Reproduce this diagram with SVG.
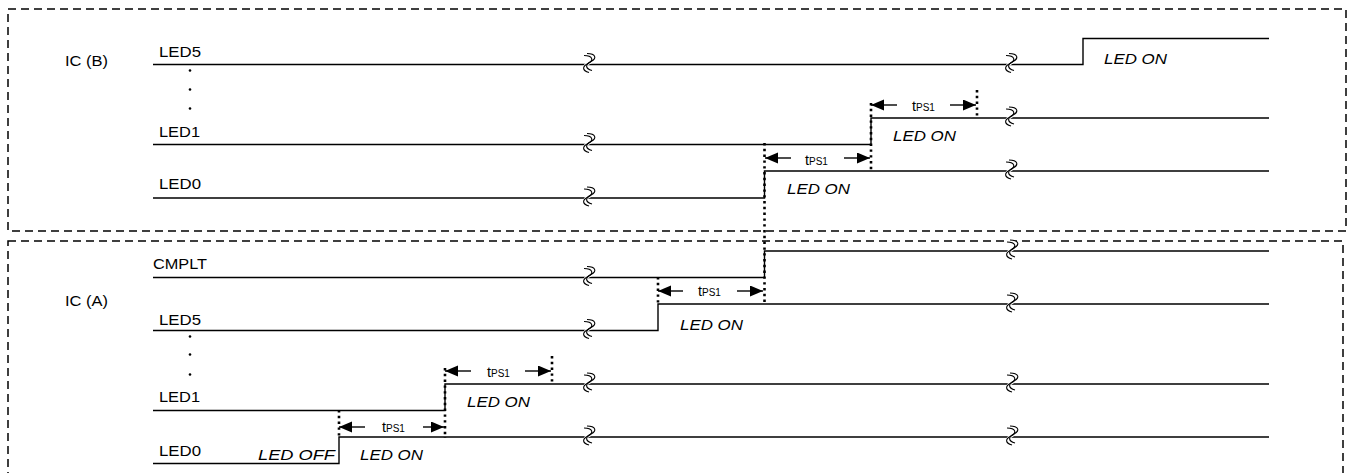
<svg xmlns="http://www.w3.org/2000/svg" width="1349" height="473" viewBox="0 0 1349 473">
<style>
.box{fill:none;stroke:#000;stroke-width:1.5;stroke-dasharray:8 5}
.w{fill:none;stroke:#000;stroke-width:1.4}
.dot{fill:none;stroke:#000;stroke-width:2.6;stroke-dasharray:2.4 3.4}
.ar{fill:none;stroke:#000;stroke-width:1.4;marker-end:url(#ah)}
.lb{font-family:"Liberation Sans",Arial,sans-serif;font-size:14.5px;fill:#000}
.it{font-family:"Liberation Sans",Arial,sans-serif;font-size:14.5px;font-style:italic;fill:#000}
.t{font-family:"Liberation Sans",Arial,sans-serif;font-size:14.5px;fill:#000}
.sub{font-size:10px}
</style>
<defs>
<marker id="ah" markerUnits="userSpaceOnUse" markerWidth="14" markerHeight="12" refX="13" refY="5.5" orient="auto">
<path d="M0,0 L13,5.5 L0,11 Z" fill="#000"/>
</marker>
<g id="brk">
<path d="M-1.5,-10 C7.5,-10 8.5,-5 2.5,-2 C-3.5,1 -3.5,5 3.5,7" fill="none" stroke="#fff" stroke-width="3.5"/>
<path d="M-3,-9 C6,-9 7,-4 1,-1 C-5,2 -5,6 2,8" fill="none" stroke="#000" stroke-width="1.1"/>
<path d="M0,-11 C9,-11 10,-6 4,-3 C-2,0 -2,4 5,6" fill="none" stroke="#000" stroke-width="1.1"/>
</g>
</defs>

<g id="box-icb"><rect class="box" x="8" y="9" width="1338" height="222"/><text class="lb" x="65" y="66" textLength="43" lengthAdjust="spacingAndGlyphs">IC (B)</text></g>
<g id="box-ica"><rect class="box" x="8" y="241" width="1335" height="260"/><text class="lb" x="65" y="306" textLength="43" lengthAdjust="spacingAndGlyphs">IC (A)</text></g>

<g id="b-led5">
<text class="lb" x="159" y="57" textLength="42" lengthAdjust="spacingAndGlyphs">LED5</text>
<path class="w" d="M153,64.5 H1083 V38.5 H1269"/>
<circle cx="190" cy="70.5" r="1.3"/><circle cx="190" cy="89.5" r="1.3"/><circle cx="190" cy="108.5" r="1.3"/>
<text class="it" x="1104" y="64" textLength="63" lengthAdjust="spacingAndGlyphs">LED ON</text>
</g>
<g id="b-led1">
<text class="lb" x="159" y="137" textLength="41" lengthAdjust="spacingAndGlyphs">LED1</text>
<path class="w" d="M153,144.5 H871 V118 H1269"/>
<text class="it" x="893" y="141" textLength="63" lengthAdjust="spacingAndGlyphs">LED ON</text>
</g>
<g id="b-led0">
<text class="lb" x="159" y="189" textLength="42" lengthAdjust="spacingAndGlyphs">LED0</text>
<path class="w" d="M153,198 H764.5 V171 H1269"/>
<text class="it" x="787" y="194" textLength="63" lengthAdjust="spacingAndGlyphs">LED ON</text>
</g>

<g id="a-cmplt">
<text class="lb" x="153" y="269" textLength="54" lengthAdjust="spacingAndGlyphs">CMPLT</text>
<path class="w" d="M153,277.5 H764.5 V251 H1269"/>
</g>
<g id="a-led5">
<text class="lb" x="159" y="325" textLength="42" lengthAdjust="spacingAndGlyphs">LED5</text>
<path class="w" d="M153,330.5 H658 V304 H1269"/>
<circle cx="190" cy="336.5" r="1.3"/><circle cx="190" cy="354.5" r="1.3"/><circle cx="190" cy="374.5" r="1.3"/>
<text class="it" x="680" y="330" textLength="63" lengthAdjust="spacingAndGlyphs">LED ON</text>
</g>
<g id="a-led1">
<text class="lb" x="159" y="402" textLength="41" lengthAdjust="spacingAndGlyphs">LED1</text>
<path class="w" d="M153,410.5 H445 V384 H1269"/>
<text class="it" x="467" y="407" textLength="63" lengthAdjust="spacingAndGlyphs">LED ON</text>
</g>
<g id="a-led0">
<text class="lb" x="159" y="456" textLength="42" lengthAdjust="spacingAndGlyphs">LED0</text>
<path class="w" d="M153,463.5 H339 V437 H1269"/>
<text class="it" x="258" y="460" textLength="77" lengthAdjust="spacingAndGlyphs">LED OFF</text>
<text class="it" x="360" y="460" textLength="63" lengthAdjust="spacingAndGlyphs">LED ON</text>
</g>

<g id="breaks">
<use href="#brk" x="587" y="64.5"/><use href="#brk" x="587" y="144.5"/><use href="#brk" x="587" y="198"/>
<use href="#brk" x="1009" y="64.5"/><use href="#brk" x="1009" y="118"/><use href="#brk" x="1009" y="171"/>
<use href="#brk" x="587" y="277.5"/><use href="#brk" x="587" y="330.5"/><use href="#brk" x="587" y="384"/><use href="#brk" x="587" y="437"/>
<use href="#brk" x="1010" y="251"/><use href="#brk" x="1010" y="304"/><use href="#brk" x="1010" y="384"/><use href="#brk" x="1010" y="437"/>
</g>

<g id="connectors">
<path class="dot" d="M764.5,143 V304"/>
<path class="dot" d="M871,103 V172"/>
<path class="dot" d="M977,90 V118"/>
<path class="dot" d="M658,277 V305"/>
<path class="dot" d="M339,410 V438"/>
<path class="dot" d="M445,368 V438"/>
<path class="dot" d="M552,356 V384"/>

<path class="ar" d="M791,158 H765"/><path class="ar" d="M844,158 H870"/>
<text class="t" x="805" y="165">t<tspan class="sub">PS1</tspan></text>
<path class="ar" d="M897,105 H871"/><path class="ar" d="M950,105 H976"/>
<text class="t" x="912" y="111">t<tspan class="sub">PS1</tspan></text>
<path class="ar" d="M683,291 H658"/><path class="ar" d="M737,291 H763"/>
<text class="t" x="698" y="296">t<tspan class="sub">PS1</tspan></text>
<path class="ar" d="M471,371 H445"/><path class="ar" d="M525,371 H551"/>
<text class="t" x="487" y="377">t<tspan class="sub">PS1</tspan></text>
<path class="ar" d="M365,427 H339"/><path class="ar" d="M423,427 H444"/>
<text class="t" x="382" y="432">t<tspan class="sub">PS1</tspan></text>
</g>
</svg>
